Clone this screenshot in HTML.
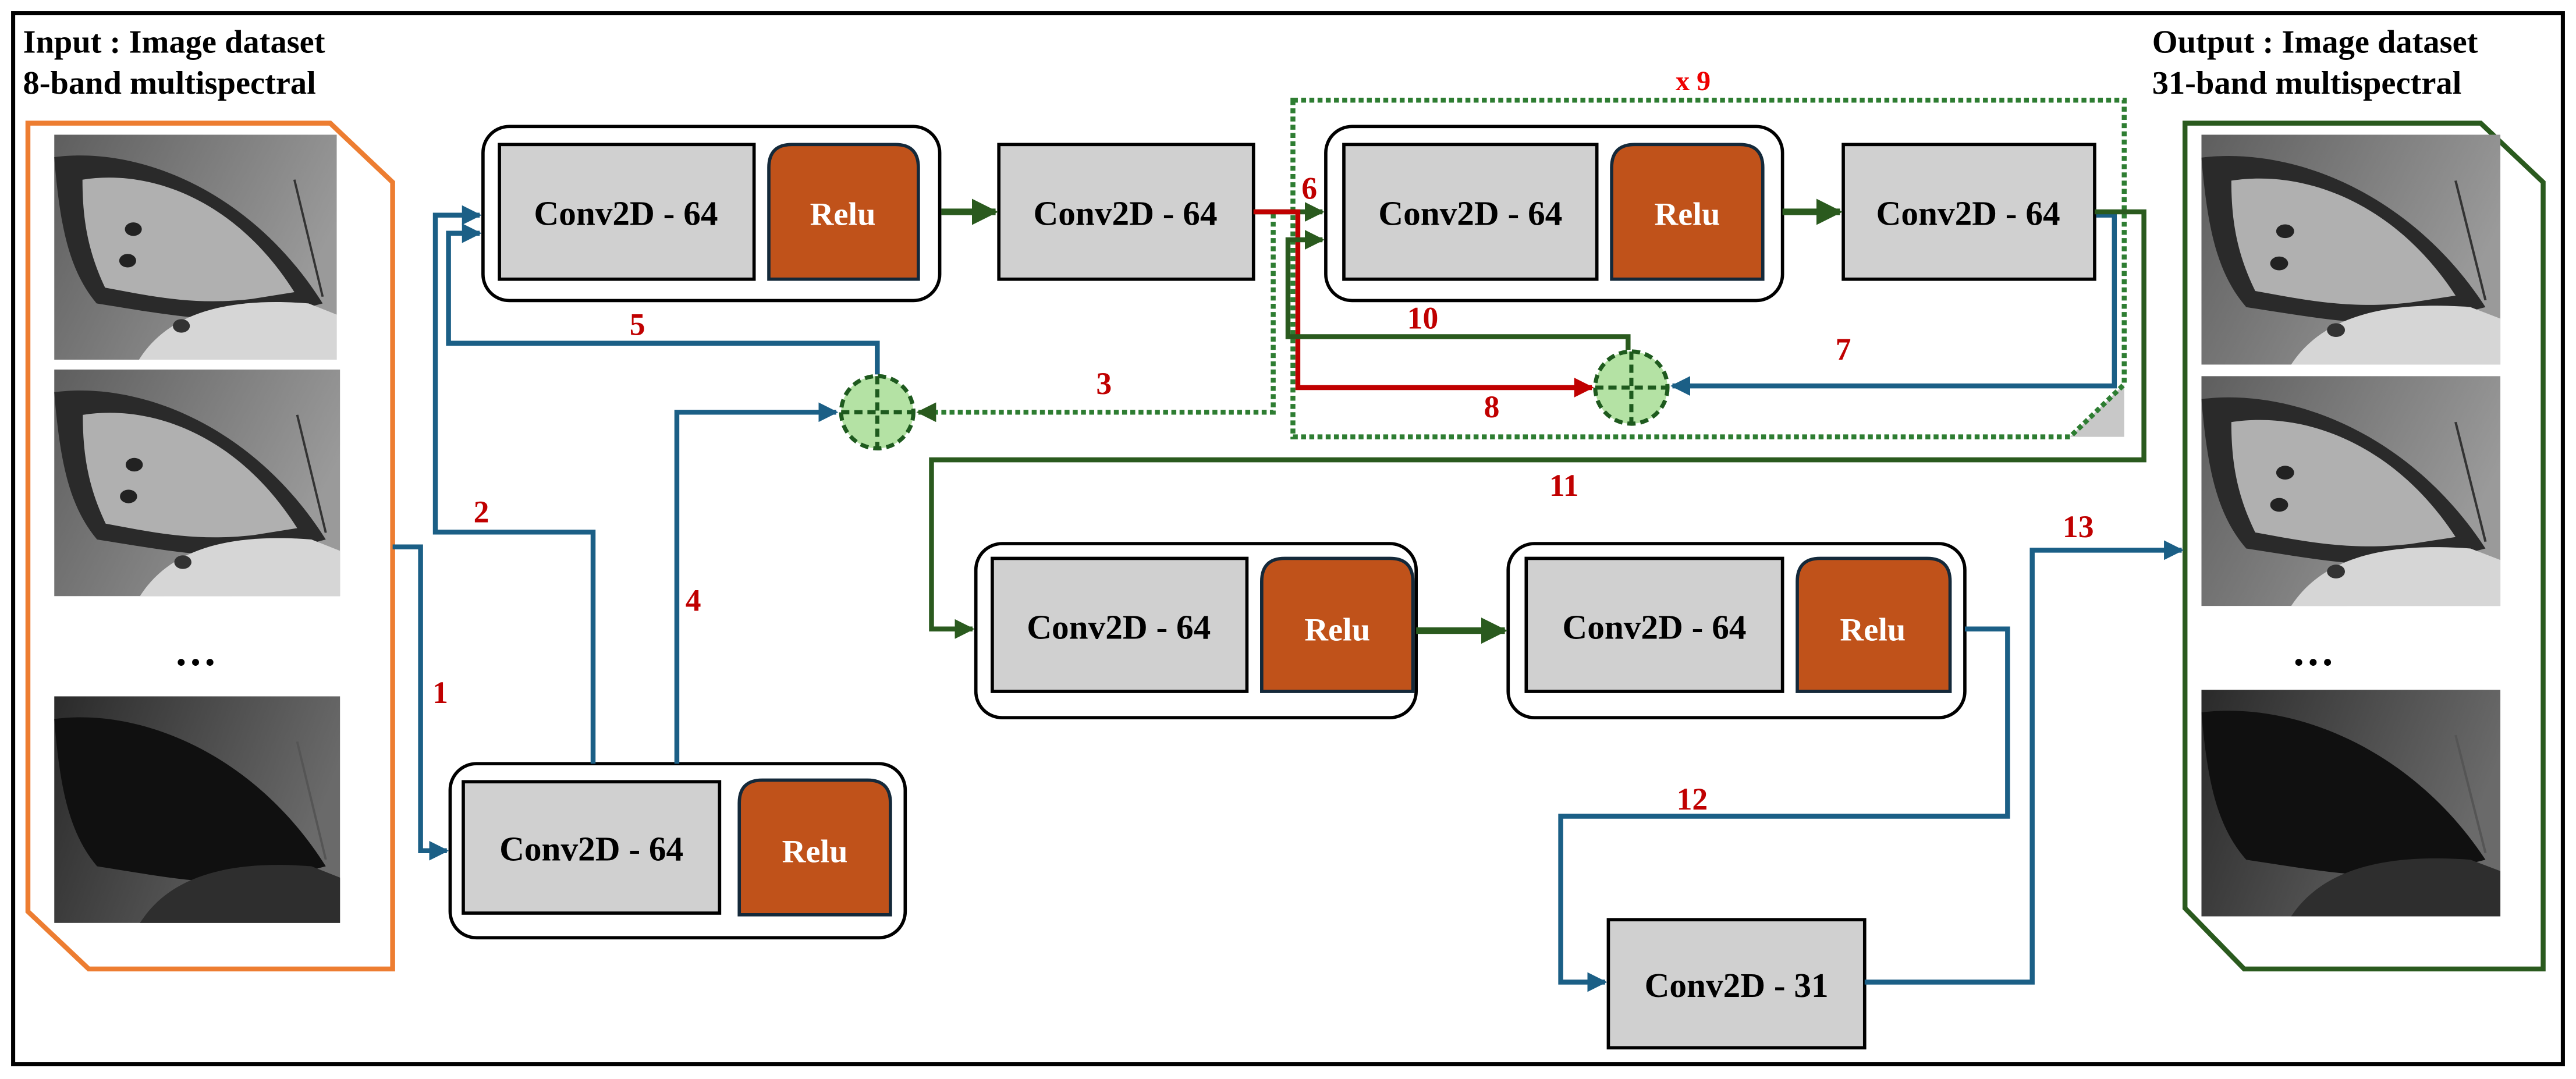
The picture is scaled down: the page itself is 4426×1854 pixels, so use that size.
<!DOCTYPE html>
<html><head><meta charset="utf-8"><style>
html,body{margin:0;padding:0;background:#fff;}
svg{display:block;font-family:"Liberation Serif","DejaVu Serif",serif;}
svg text{font-family:"Liberation Serif","DejaVu Serif",serif;font-weight:bold;}
</style></head><body>
<svg width="4426" height="1854" viewBox="0 0 1568 657" preserveAspectRatio="none" xmlns="http://www.w3.org/2000/svg" font-family="Liberation Serif, serif" font-weight="bold">
<defs>
<linearGradient id="bg1" x1="0" y1="0" x2="1" y2="0.4"><stop offset="0" stop-color="#5e5e5e"/><stop offset="1" stop-color="#9a9a9a"/></linearGradient>
<linearGradient id="bg3" x1="0" y1="0" x2="1" y2="0.3"><stop offset="0" stop-color="#2a2a2a"/><stop offset="1" stop-color="#6a6a6a"/></linearGradient>
<symbol id="bf" viewBox="0 0 100 100" preserveAspectRatio="none">
<rect width="100" height="100" fill="url(#bg1)"/>
<path d="M0,10 C30,5 70,25 95,75 L80,80 C60,85 40,80 15,75 C5,60 2,40 0,10Z" fill="#2a2a2a"/>
<path d="M10,20 C35,15 65,30 85,70 L70,73 C50,76 35,72 18,68 C12,52 10,38 10,20Z" fill="#b0b0b0"/>
<path d="M30,100 C40,80 60,72 90,75 L100,80 L100,100Z" fill="#d6d6d6"/>
<circle cx="28" cy="42" r="3" fill="#222"/><circle cx="26" cy="56" r="3" fill="#222"/><circle cx="45" cy="85" r="3" fill="#333"/>
<path d="M85,20 L95,72" stroke="#333" stroke-width="0.8" fill="none"/>
</symbol>
<symbol id="bf3" viewBox="0 0 100 100" preserveAspectRatio="none">
<rect width="100" height="100" fill="url(#bg3)"/>
<path d="M0,10 C30,5 70,25 95,75 L80,80 C60,85 40,80 15,75 C5,60 2,40 0,10Z" fill="#101010"/>
<path d="M30,100 C40,80 60,72 90,75 L100,80 L100,100Z" fill="#2e2e2e"/>
<path d="M85,20 L95,72" stroke="#555" stroke-width="0.8" fill="none"/>
</symbol>
<marker id="ab" viewBox="0 0 10 10" refX="9" refY="5" markerWidth="4" markerHeight="4" orient="auto"><path d="M0,0 L10,5 L0,10Z" fill="#1b5f86"/></marker>
<marker id="ag" viewBox="0 0 10 10" refX="9" refY="5" markerWidth="4" markerHeight="4" orient="auto"><path d="M0,0 L10,5 L0,10Z" fill="#2a5a1e"/></marker>
<marker id="ar" viewBox="0 0 10 10" refX="9" refY="5" markerWidth="4" markerHeight="4" orient="auto"><path d="M0,0 L10,5 L0,10Z" fill="#c00000"/></marker>
</defs>

<rect x="8" y="8" width="1552" height="640" fill="#fff" stroke="#000" stroke-width="2.5"/>

<text x="14" y="32" font-size="20">Input : Image dataset</text>
<text x="14" y="57" font-size="20">8-band multispectral</text>
<text x="1310" y="32" font-size="20">Output : Image dataset</text>
<text x="1310" y="57" font-size="20">31-band multispectral</text>

<polygon points="17,75 201,75 239,111 239,590 54,590 17,555" fill="none" stroke="#ed7d31" stroke-width="3"/>
<use href="#bf" x="33" y="82" width="172" height="137"/>
<use href="#bf" x="33" y="225" width="174" height="138"/>
<text x="106" y="405" font-size="26" fill="#000">…</text>
<use href="#bf3" x="33" y="424" width="174" height="138"/>

<polygon points="1330,75 1510,75 1548,111 1548,590 1366,590 1330,553" fill="none" stroke="#2a5a1e" stroke-width="3"/>
<use href="#bf" x="1340" y="82" width="182" height="140"/>
<use href="#bf" x="1340" y="229" width="182" height="140"/>
<text x="1395" y="405" font-size="26" fill="#000">…</text>
<use href="#bf3" x="1340" y="420" width="182" height="138"/>

<polygon points="1260,266 1293,234 1293,266" fill="#c8c8c8"/>
<path d="M787,61 H1293 V234 L1260,266 H787 Z" fill="none" stroke="#2e7d32" stroke-width="3" stroke-dasharray="3,2"/>
<text x="1020" y="55" font-size="17" fill="#e00" font-weight="normal">x 9</text>

<g stroke="#000" stroke-width="2">
<rect x="294" y="77" width="278" height="106" rx="16" fill="#fff"/>
<rect x="304" y="88" width="155" height="82" fill="#d0d0d0"/>
<rect x="807" y="77" width="278" height="106" rx="16" fill="#fff"/>
<rect x="818" y="88" width="154" height="82" fill="#d0d0d0"/>
<rect x="608" y="88" width="155" height="82" fill="#d0d0d0"/>
<rect x="1122" y="88" width="153" height="82" fill="#d0d0d0"/>
<rect x="274" y="465" width="277" height="106" rx="16" fill="#fff"/>
<rect x="282" y="476" width="156" height="80" fill="#d0d0d0"/>
<rect x="594" y="331" width="268" height="106" rx="16" fill="#fff"/>
<rect x="604" y="340" width="155" height="81" fill="#d0d0d0"/>
<rect x="918" y="331" width="278" height="106" rx="16" fill="#fff"/>
<rect x="929" y="340" width="156" height="81" fill="#d0d0d0"/>
<rect x="979" y="560" width="156" height="78" fill="#d0d0d0"/>
</g>
<g fill="#c0521a" stroke="#14293a" stroke-width="2">
<path d="M468,170 V102 Q468,88 482,88 H545 Q559,88 559,102 V170 Z"/>
<path d="M981,170 V102 Q981,88 995,88 H1059 Q1073,88 1073,102 V170 Z"/>
<path d="M450,557 V489 Q450,475 464,475 H528 Q542,475 542,489 V557 Z"/>
<path d="M768,421 V354 Q768,340 782,340 H846 Q860,340 860,354 V421 Z"/>
<path d="M1094,421 V354 Q1094,340 1108,340 H1173 Q1187,340 1187,354 V421 Z"/>
</g>
<g font-size="21" text-anchor="middle">
<text x="381" y="137">Conv2D - 64</text>
<text x="685" y="137">Conv2D - 64</text>
<text x="895" y="137">Conv2D - 64</text>
<text x="1198" y="137">Conv2D - 64</text>
<text x="360" y="524">Conv2D - 64</text>
<text x="681" y="389">Conv2D - 64</text>
<text x="1007" y="389">Conv2D - 64</text>
<text x="1057" y="607">Conv2D - 31</text>
</g>
<g font-size="20" text-anchor="middle" fill="#fff">
<text x="513" y="137">Relu</text>
<text x="1027" y="137">Relu</text>
<text x="496" y="525">Relu</text>
<text x="814" y="390">Relu</text>
<text x="1140" y="390">Relu</text>
</g>

<g fill="none" stroke-width="3">
<path d="M239,333 H256 V518 H272" stroke="#1b5f86" marker-end="url(#ab)"/>
<path d="M361,465 V324 H265 V131 H292" stroke="#1b5f86" marker-end="url(#ab)"/>
<path d="M412,465 V251 H509" stroke="#1b5f86" marker-end="url(#ab)"/>
<path d="M534,228 V209 H273 V142 H292" stroke="#1b5f86" marker-end="url(#ab)"/>
<path d="M775,130 V251 H559" stroke="#2e7d32" stroke-dasharray="3,2" marker-end="url(#ag)"/>
<path d="M573,129 H606" stroke="#2a5a1e" stroke-width="4" marker-end="url(#ag)"/>
<path d="M763,129 H805" stroke="#2a5a1e" marker-end="url(#ag)"/>
<path d="M763,129 H790 V236 H969" stroke="#c00000" marker-end="url(#ar)"/>
<path d="M991,213 V205 H784 V146 H805" stroke="#2a5a1e" marker-end="url(#ag)"/>
<path d="M1085,129 H1120" stroke="#2a5a1e" stroke-width="4" marker-end="url(#ag)"/>
<path d="M1276,131 H1287 V235 H1018" stroke="#1b5f86" marker-end="url(#ab)"/>
<path d="M1275,129 H1305 V280 H567 V383 H592" stroke="#2a5a1e" marker-end="url(#ag)"/>
<path d="M862,384 H916" stroke="#2a5a1e" stroke-width="4" marker-end="url(#ag)"/>
<path d="M1196,383 H1222 V497 H950 V598 H977" stroke="#1b5f86" marker-end="url(#ab)"/>
<path d="M1135,598 H1237 V335 H1328" stroke="#1b5f86" marker-end="url(#ab)"/>
</g>

<g stroke="#1e5a1e" stroke-width="2.5" stroke-dasharray="5,3">
<circle cx="534" cy="251" r="22" fill="#b4e2a4"/>
<path d="M534,229 V273 M512,251 H556" fill="none"/>
<circle cx="993" cy="236" r="22" fill="#b4e2a4"/>
<path d="M993,214 V258 M971,236 H1015" fill="none"/>
</g>

<g font-size="19" fill="#c00000" text-anchor="middle">
<text x="268" y="428">1</text>
<text x="293" y="318">2</text>
<text x="672" y="240">3</text>
<text x="422" y="372">4</text>
<text x="388" y="204">5</text>
<text x="797" y="121">6</text>
<text x="1122" y="219">7</text>
<text x="908" y="254">8</text>
<text x="866" y="200">10</text>
<text x="952" y="302">11</text>
<text x="1030" y="493">12</text>
<text x="1265" y="327">13</text>
</g>
</svg>
</body></html>
